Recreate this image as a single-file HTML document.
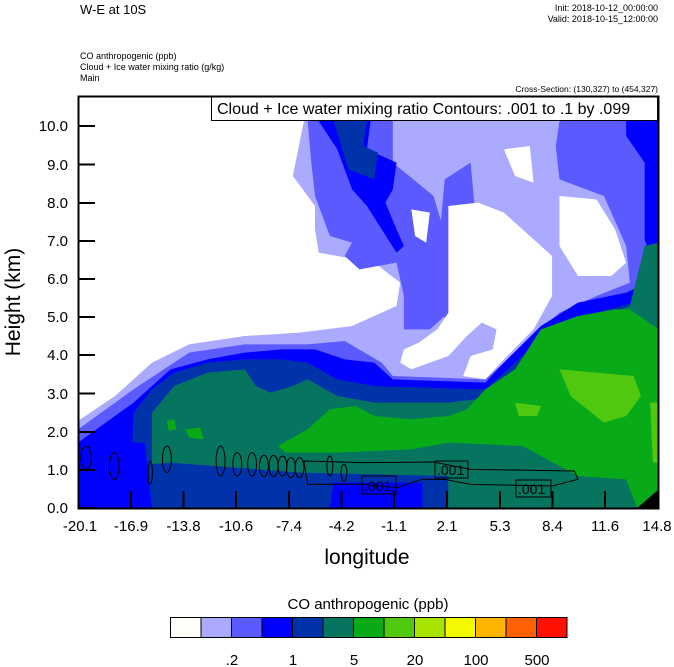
<!DOCTYPE html>
<html><head><meta charset="utf-8"><style>
html,body{margin:0;padding:0;background:#fff;}
svg{display:block;font-family:"Liberation Sans",sans-serif;}
</style></head><body>
<svg width="674" height="667" viewBox="0 0 674 667" xmlns="http://www.w3.org/2000/svg">
<rect width="674" height="667" fill="#fff"/>
<text x="80" y="14" font-size="13">W-E at 10S</text>
<text x="658" y="11" font-size="9" text-anchor="end">Init: 2018-10-12_00:00:00</text>
<text x="658" y="22" font-size="9" text-anchor="end">Valid: 2018-10-15_12:00:00</text>
<text x="80" y="59" font-size="9">CO anthropogenic   (ppb)</text>
<text x="80" y="70" font-size="9">Cloud + Ice water mixing ratio   (g/kg)</text>
<text x="80" y="81" font-size="9">Main</text>
<text x="658" y="92" font-size="8.5" text-anchor="end">Cross-Section: (130,327) to (454,327)</text>
<defs><clipPath id="c"><rect x="0" y="0" width="1566" height="1236"/></clipPath></defs>
<g transform="translate(78,96) scale(0.37037,0.33333)" clip-path="url(#c)">
<polygon fill="#aaaaff" points="0,975 100,900 200,800 300,745 450,720 600,710 740,690 860,630 870,560 800,500 650,470 640,400 640,330 580,240 610,75 1568,75 1568,1236 0,1236"/>
<polygon fill="#5a5aff" points="0,1000 150,880 300,770 450,745 620,745 720,735 820,800 850,840 1100,850 1200,750 1300,650 1400,600 1490,560 1568,560 1568,1236 0,1236"/>
<polygon fill="#5a5aff" points="620,75 850,75 850,200 960,300 1000,450 990,660 950,700 880,700 880,600 860,500 760,520 720,480 740,440 680,420 640,300 630,200"/>
<polygon fill="#5a5aff" points="1300,75 1568,75 1568,600 1490,560 1480,450 1420,300 1300,250 1290,150"/>
<polygon fill="#5a5aff" points="990,250 1060,200 1070,320 1030,400 1030,660 990,670 970,500"/>
<polygon fill="#0000ff" points="0,1040 150,920 250,820 350,790 450,770 550,760 640,760 720,790 800,800 850,850 1100,860 1150,800 1250,690 1350,620 1480,590 1540,560 1568,520 1568,1236 0,1236"/>
<polygon fill="#0000ff" points="650,75 790,75 780,160 860,200 850,280 830,320 860,400 880,450 860,470 780,330 740,280 700,160"/>
<polygon fill="#0000ff" points="1480,75 1568,75 1568,560 1530,430 1530,200 1480,120"/>
<polygon fill="#0033aa" points="140,1236 150,950 200,880 260,830 350,800 450,790 550,790 620,800 700,850 800,870 1100,880 1200,780 1300,690 1400,650 1500,620 1568,580 1568,1236"/>
<polygon fill="#0033aa" points="690,75 780,75 770,150 810,170 800,250 730,220"/>
<polygon fill="#067560" points="200,1236 200,950 260,870 350,830 450,820 480,870 520,890 580,870 620,850 700,900 800,920 1000,920 1150,900 1200,820 1300,700 1400,670 1490,630 1530,450 1568,440 1568,1236"/>
<polygon fill="#08aa18" points="540,1050 620,1000 680,940 750,930 800,960 900,970 1000,960 1050,940 1100,880 1180,820 1250,700 1350,660 1450,640 1490,640 1568,700 1568,1180 1510,1236 1480,1150 1350,1140 1200,1050 1000,1040 900,1060 700,1070 560,1070"/>
<polygon fill="#08aa18" points="240,975 260,970 265,1000 245,1005"/>
<polygon fill="#08aa18" points="290,1000 330,995 340,1030 300,1025"/>
<polygon fill="#50c810" points="1300,820 1400,830 1500,840 1520,900 1480,960 1420,980 1330,900"/>
<polygon fill="#50c810" points="1180,920 1250,930 1240,960 1190,960"/>
<polygon fill="#50c810" points="1545,920 1568,920 1568,1100 1552,1100"/>
<polygon fill="#0033aa" points="0,1236 0,1120 250,1100 600,1130 1000,1140 1000,1236"/>
<polygon fill="#0000ff" points="0,1236 0,1040 180,1040 200,1236"/>
<polygon fill="#0000ff" points="680,1236 690,1160 930,1160 930,1236"/>
<polygon fill="#067560" points="1000,1236 1000,1150 1350,1150 1480,1160 1500,1236"/>
<polygon fill="#000" points="1510,1236 1568,1180 1568,1236"/>
<polygon fill="#fff" points="1000,330 1080,320 1150,350 1200,400 1280,480 1280,600 1230,700 1150,790 1100,850 1040,840 1060,780 1120,760 1130,700 1090,680 1050,720 1000,780 900,820 870,800 880,760 920,740 970,700 1000,650 1000,500"/>
<polygon fill="#fff" points="1300,300 1400,310 1450,400 1480,500 1440,540 1350,540 1300,450"/>
<polygon fill="#fff" points="1150,160 1220,150 1230,260 1180,240"/>
<polygon fill="#fff" points="900,340 950,350 940,440 910,420"/>
<g fill="none" stroke="#000" stroke-width="1">
<ellipse cx="22" cy="1085" rx="14" ry="35" vector-effect="non-scaling-stroke"/>
<ellipse cx="98" cy="1110" rx="13" ry="40" vector-effect="non-scaling-stroke"/>
<ellipse cx="195" cy="1130" rx="6" ry="35" vector-effect="non-scaling-stroke"/>
<ellipse cx="240" cy="1090" rx="12" ry="40" vector-effect="non-scaling-stroke"/>
<ellipse cx="385" cy="1095" rx="12" ry="45" vector-effect="non-scaling-stroke"/>
<ellipse cx="430" cy="1105" rx="12" ry="35" vector-effect="non-scaling-stroke"/>
<ellipse cx="470" cy="1105" rx="12" ry="35" vector-effect="non-scaling-stroke"/>
<ellipse cx="502" cy="1110" rx="12" ry="32" vector-effect="non-scaling-stroke"/>
<ellipse cx="528" cy="1110" rx="12" ry="32" vector-effect="non-scaling-stroke"/>
<ellipse cx="552" cy="1110" rx="12" ry="30" vector-effect="non-scaling-stroke"/>
<ellipse cx="575" cy="1115" rx="12" ry="30" vector-effect="non-scaling-stroke"/>
<ellipse cx="598" cy="1115" rx="12" ry="30" vector-effect="non-scaling-stroke"/>
<ellipse cx="680" cy="1110" rx="8" ry="30" vector-effect="non-scaling-stroke"/>
<ellipse cx="718" cy="1130" rx="8" ry="25" vector-effect="non-scaling-stroke"/>
<path vector-effect="non-scaling-stroke" d="M610,1095 L770,1100 L960,1098 L1060,1120 L1340,1125 L1350,1150 L1280,1170 L1060,1165 L990,1150 L930,1150 L860,1175 L770,1165 L620,1165 Z"/>
</g>
</g>
<g stroke="#000" stroke-width="1" fill="none">
<rect x="435" y="461" width="33" height="17"/>
<rect x="362" y="476" width="34" height="18"/>
<rect x="516" y="480" width="35" height="17"/>
</g>
<g font-size="14">
<text x="437" y="475">.001</text>
<text x="364" y="491">.001</text>
<text x="518" y="494">.001</text>
</g>
<rect x="211.5" y="96.5" width="446" height="24" fill="#fff" stroke="#000"/>
<text x="217" y="114" font-size="16">Cloud + Ice water mixing ratio Contours: .001 to .1 by .099</text>
<rect x="78.5" y="96.5" width="580" height="412" fill="none" stroke="#000" stroke-width="2"/>
<g stroke="#000" stroke-width="2">
<line x1="78" y1="508" x2="95" y2="508"/><line x1="78" y1="470" x2="95" y2="470"/>
<line x1="78" y1="432" x2="95" y2="432"/><line x1="78" y1="393.5" x2="95" y2="393.5"/>
<line x1="78" y1="355" x2="95" y2="355"/><line x1="78" y1="317" x2="95" y2="317"/>
<line x1="78" y1="279" x2="95" y2="279"/><line x1="78" y1="241" x2="95" y2="241"/>
<line x1="78" y1="203" x2="95" y2="203"/><line x1="78" y1="164.5" x2="95" y2="164.5"/>
<line x1="78" y1="126" x2="95" y2="126"/>
<line x1="131" y1="508" x2="131" y2="491"/><line x1="183.5" y1="508" x2="183.5" y2="491"/>
<line x1="236" y1="508" x2="236" y2="491"/><line x1="289" y1="508" x2="289" y2="491"/>
<line x1="341.5" y1="508" x2="341.5" y2="491"/><line x1="394" y1="508" x2="394" y2="491"/>
<line x1="447" y1="508" x2="447" y2="491"/><line x1="500" y1="508" x2="500" y2="491"/>
<line x1="552.5" y1="508" x2="552.5" y2="491"/><line x1="605" y1="508" x2="605" y2="491"/>
</g>
<g font-size="15" text-anchor="end">
<text x="68" y="513">0.0</text><text x="68" y="475">1.0</text><text x="68" y="437">2.0</text>
<text x="68" y="399">3.0</text><text x="68" y="360">4.0</text><text x="68" y="322">5.0</text>
<text x="68" y="284">6.0</text><text x="68" y="246">7.0</text><text x="68" y="208">8.0</text>
<text x="68" y="170">9.0</text><text x="68" y="131">10.0</text>
</g>
<g font-size="15" text-anchor="middle">
<text x="80" y="531">-20.1</text><text x="131" y="531">-16.9</text><text x="183.5" y="531">-13.8</text>
<text x="236" y="531">-10.6</text><text x="289" y="531">-7.4</text><text x="341.5" y="531">-4.2</text>
<text x="394" y="531">-1.1</text><text x="447" y="531">2.1</text><text x="500" y="531">5.3</text>
<text x="552.5" y="531">8.4</text><text x="605" y="531">11.6</text><text x="657" y="531">14.8</text>
</g>
<text x="367" y="564" font-size="21" text-anchor="middle">longitude</text>
<text transform="translate(20,302) rotate(-90)" font-size="21" text-anchor="middle">Height (km)</text>
<text x="368" y="609" font-size="15" text-anchor="middle">CO anthropogenic  (ppb)</text>
<g stroke="#000" stroke-width="1">
<rect x="170.5" y="617.5" width="30.5" height="20" fill="#fffffa"/>
<rect x="201" y="617.5" width="30.5" height="20" fill="#aaaaff"/>
<rect x="231.5" y="617.5" width="30.5" height="20" fill="#5a5aff"/>
<rect x="262" y="617.5" width="30.5" height="20" fill="#0000ff"/>
<rect x="292.5" y="617.5" width="30.5" height="20" fill="#0033aa"/>
<rect x="323" y="617.5" width="30.5" height="20" fill="#067560"/>
<rect x="353.5" y="617.5" width="30.5" height="20" fill="#08aa18"/>
<rect x="384" y="617.5" width="30.5" height="20" fill="#50c810"/>
<rect x="414.5" y="617.5" width="30.5" height="20" fill="#a8e400"/>
<rect x="445" y="617.5" width="30.5" height="20" fill="#f4f800"/>
<rect x="475.5" y="617.5" width="30.5" height="20" fill="#ffb400"/>
<rect x="506" y="617.5" width="30.5" height="20" fill="#ff6000"/>
<rect x="536.5" y="617.5" width="30.5" height="20" fill="#ff1000"/>
</g>
<g font-size="15" text-anchor="middle">
<text x="232" y="665">.2</text><text x="293" y="665">1</text><text x="354" y="665">5</text>
<text x="415" y="665">20</text><text x="476" y="665">100</text><text x="537" y="665">500</text>
</g>
</svg>
</body></html>
